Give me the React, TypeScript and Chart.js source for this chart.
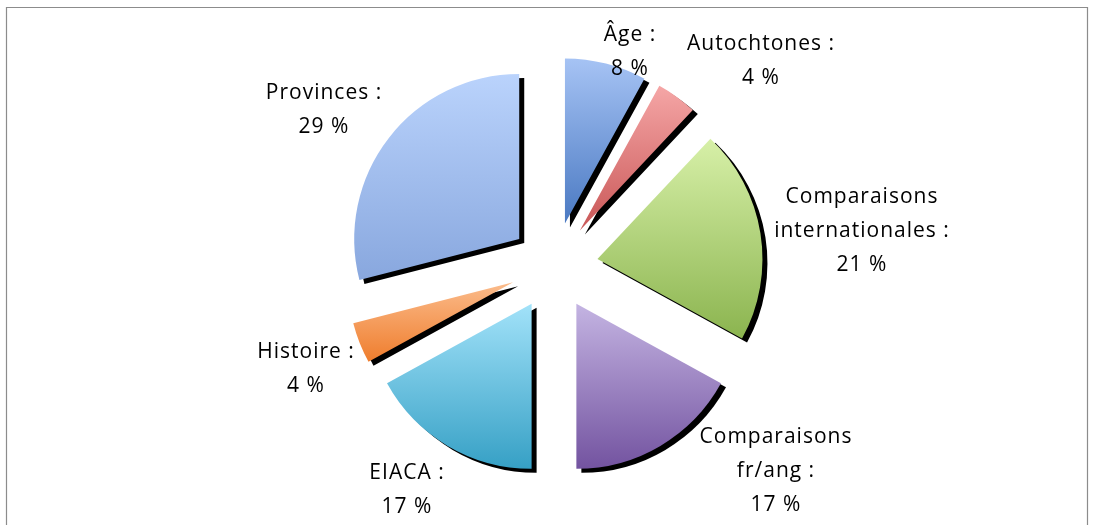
import React, { useEffect, useRef } from 'react';
import { Chart, registerables } from 'chart.js';

Chart.register(...registerables);

const categories = [
  'Âge',
  'Autochtones',
  'Comparaisons internationales',
  'Comparaisons fr/ang',
  'EIACA',
  'Histoire',
  'Provinces',
];
const values = [8, 4, 21, 17, 17, 4, 29];

// label text split across lines (the percentage is appended as the last line)
const labelLines = [
  ['Âge :'],
  ['Autochtones :'],
  ['Comparaisons', 'internationales :'],
  ['Comparaisons', 'fr/ang :'],
  ['EIACA :'],
  ['Histoire :'],
  ['Provinces :'],
];

const gradientTop = ['#a6c3f4', '#f5a6a6', '#d7f0a8', '#c4b4e2', '#a2e2f9', '#fbbc8c', '#bad3fc'];
const gradientBottom = ['#4a79c2', '#c95757', '#8bb44f', '#7353a0', '#36a0c5', '#ef7d2d', '#88a7de'];

// centre of the first text line of each label (text layout only)
const labelAnchors = [
  [630, 35],
  [761, 44],
  [862, 197],
  [776, 437],
  [407, 473],
  [306, 352],
  [324, 93],
];

const EXPLODE = 44;
const RADIUS = 165;
const LINE_H = 34;
const FONT = '21px "Open Sans"';

const piePlugin = {
  id: 'excelPie',
  beforeDraw(chart: any) {
    const c = chart.ctx;
    c.save();
    c.fillStyle = '#ffffff';
    c.fillRect(0, 0, chart.width, chart.height);
    c.strokeStyle = '#8c8c8c';
    c.lineWidth = 1.2;
    c.beginPath();
    c.moveTo(6.5, chart.height + 2);
    c.lineTo(6.5, 7.5);
    c.lineTo(1087.5, 7.5);
    c.lineTo(1087.5, chart.height + 2);
    c.stroke();
    c.restore();
  },
  afterDatasetsUpdate(chart: any) {
    const meta = chart.getDatasetMeta(0);
    const c = chart.ctx;
    meta.data.forEach((el: any, i: number) => {
      const mid = (el.startAngle + el.endAngle) / 2;
      el.x += Math.cos(mid) * EXPLODE;
      el.y += Math.sin(mid) * EXPLODE;
      const r = el.outerRadius;
      let minY = el.y;
      let maxY = el.y;
      const angles = [el.startAngle, el.endAngle];
      for (let k = -4; k <= 8; k++) {
        const a = (k * Math.PI) / 2;
        if (a > el.startAngle && a < el.endAngle) angles.push(a);
      }
      angles.forEach((a) => {
        const y = el.y + Math.sin(a) * r;
        minY = Math.min(minY, y);
        maxY = Math.max(maxY, y);
      });
      const g = c.createLinearGradient(0, minY, 0, maxY);
      g.addColorStop(0, gradientTop[i]);
      g.addColorStop(1, gradientBottom[i]);
      el.options = Object.assign({}, el.options, { backgroundColor: g, borderWidth: 0 });
    });
  },
  beforeDatasetsDraw(chart: any) {
    const c = chart.ctx;
    c.save();
    c.shadowColor = '#000000';
    c.shadowOffsetX = 5;
    c.shadowOffsetY = 4;
    c.shadowBlur = 0;
  },
  afterDatasetsDraw(chart: any) {
    const c = chart.ctx;
    c.restore();
    c.save();
    c.font = FONT;
    (c as any).letterSpacing = '1px';
    c.fillStyle = '#000000';
    c.textAlign = 'center';
    c.textBaseline = 'middle';
    const data = chart.data.datasets[0].data as number[];
    labelLines.forEach((lines, i) => {
      const all = [...lines, `${data[i]} %`];
      const [ax, ay] = labelAnchors[i];
      all.forEach((t, j) => {
        c.fillText(t, ax, ay + j * LINE_H);
      });
    });
    c.restore();
  },
};

export default function App() {
  const ref = useRef<HTMLCanvasElement | null>(null);
  useEffect(() => {
    if (!ref.current) return;
    const chart = new Chart(ref.current, {
      type: 'pie',
      data: {
        labels: categories,
        datasets: [
          {
            data: values,
            backgroundColor: gradientBottom,
            borderWidth: 0,
          },
        ],
      },
      options: {
        responsive: false,
        animation: false,
        events: [],
        radius: RADIUS,
        layout: { padding: { left: 15, top: 7, right: 0, bottom: 0 } },
        plugins: {
          legend: { display: false },
          tooltip: { enabled: false },
        },
      } as any,
      plugins: [piePlugin],
    });
    return () => chart.destroy();
  }, []);
  return (
    <div style={{ position: 'absolute', left: 0, top: 0, width: 1093, height: 525, overflow: 'hidden' }}>
      <canvas ref={ref} width={1093} height={525} style={{ display: 'block' }} />
    </div>
  );
}
